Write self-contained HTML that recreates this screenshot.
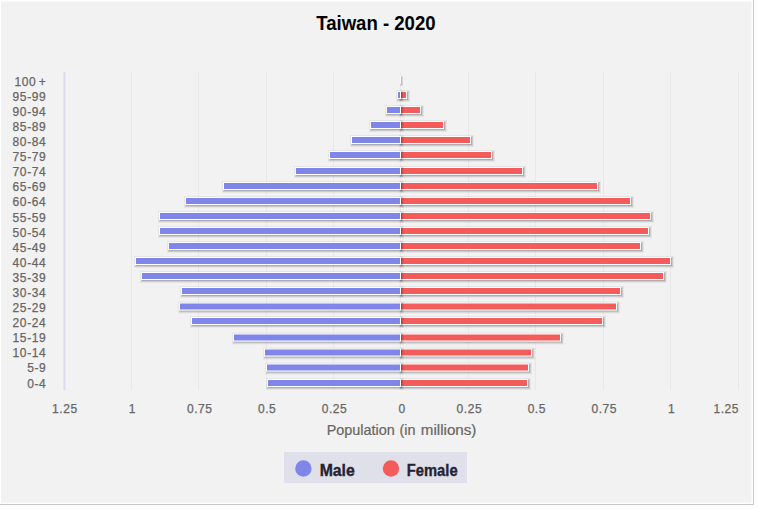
<!DOCTYPE html>
<html><head><meta charset="utf-8"><title>Taiwan - 2020</title>
<style>
html,body{margin:0;padding:0;background:#fff;}
body{width:758px;height:509px;overflow:hidden;position:relative;font-family:"Liberation Sans",sans-serif;}
svg{position:absolute;left:0;top:0;display:block}
text{font-family:"Liberation Sans",sans-serif;}
.yl{font-size:12px;fill:#666;stroke:#666;stroke-width:0.25px;text-anchor:end;letter-spacing:0.6px;word-spacing:-1.5px}
.xl{font-size:12px;fill:#666;stroke:#666;stroke-width:0.25px;text-anchor:middle;letter-spacing:0.55px}
.s1{fill:none;stroke:#000;stroke-opacity:0.05;stroke-width:5}
.s2{fill:none;stroke:#000;stroke-opacity:0.10;stroke-width:3}
.s3{fill:none;stroke:#000;stroke-opacity:0.15;stroke-width:1}
.bm{fill:#8085e9;stroke:#fff;stroke-width:1}
.bf{fill:#f45b5b;stroke:#fff;stroke-width:1}
</style></head><body>
<svg width="758" height="509" viewBox="0 0 758 509">
<rect x="0" y="0" width="758" height="509" fill="#fff"/>
<rect x="-1" y="-1" width="755" height="506" fill="#c9c9c9"/>
<rect x="0" y="0" width="753" height="504" fill="#fff"/>
<rect x="1" y="1.5" width="750.5" height="501.2" fill="#f2f2f2"/>

<rect x="63.4" y="72.0" width="2" height="318.0" fill="#dadcee"/>
<rect x="131" y="72.0" width="1" height="318.0" fill="#e8e8e8"/>
<rect x="198" y="72.0" width="1" height="318.0" fill="#e8e8e8"/>
<rect x="266" y="72.0" width="1" height="318.0" fill="#e8e8e8"/>
<rect x="333" y="72.0" width="1" height="318.0" fill="#e8e8e8"/>
<rect x="400" y="72.0" width="1" height="318.0" fill="#e8e8e8"/>
<rect x="468" y="72.0" width="1" height="318.0" fill="#e8e8e8"/>
<rect x="535" y="72.0" width="1" height="318.0" fill="#e8e8e8"/>
<rect x="603" y="72.0" width="1" height="318.0" fill="#e8e8e8"/>
<rect x="670" y="72.0" width="1" height="318.0" fill="#e8e8e8"/>
<rect x="738" y="72.0" width="1" height="318.0" fill="#e8e8e8"/>
<g><rect class="s1" x="401.5" y="92.5" width="6" height="7"/><rect class="s2" x="401.5" y="92.5" width="6" height="7"/><rect class="s3" x="401.5" y="92.5" width="6" height="7"/><rect class="s1" x="401.5" y="107.5" width="20" height="7"/><rect class="s2" x="401.5" y="107.5" width="20" height="7"/><rect class="s3" x="401.5" y="107.5" width="20" height="7"/><rect class="s1" x="401.5" y="122.5" width="43" height="7"/><rect class="s2" x="401.5" y="122.5" width="43" height="7"/><rect class="s3" x="401.5" y="122.5" width="43" height="7"/><rect class="s1" x="401.5" y="137.5" width="70" height="7"/><rect class="s2" x="401.5" y="137.5" width="70" height="7"/><rect class="s3" x="401.5" y="137.5" width="70" height="7"/><rect class="s1" x="401.5" y="152.5" width="91" height="7"/><rect class="s2" x="401.5" y="152.5" width="91" height="7"/><rect class="s3" x="401.5" y="152.5" width="91" height="7"/><rect class="s1" x="401.5" y="168.5" width="122" height="7"/><rect class="s2" x="401.5" y="168.5" width="122" height="7"/><rect class="s3" x="401.5" y="168.5" width="122" height="7"/><rect class="s1" x="401.5" y="183.5" width="197" height="7"/><rect class="s2" x="401.5" y="183.5" width="197" height="7"/><rect class="s3" x="401.5" y="183.5" width="197" height="7"/><rect class="s1" x="401.5" y="198.5" width="230" height="7"/><rect class="s2" x="401.5" y="198.5" width="230" height="7"/><rect class="s3" x="401.5" y="198.5" width="230" height="7"/><rect class="s1" x="401.5" y="213.5" width="250" height="7"/><rect class="s2" x="401.5" y="213.5" width="250" height="7"/><rect class="s3" x="401.5" y="213.5" width="250" height="7"/><rect class="s1" x="401.5" y="228.5" width="248" height="7"/><rect class="s2" x="401.5" y="228.5" width="248" height="7"/><rect class="s3" x="401.5" y="228.5" width="248" height="7"/><rect class="s1" x="401.5" y="243.5" width="240" height="7"/><rect class="s2" x="401.5" y="243.5" width="240" height="7"/><rect class="s3" x="401.5" y="243.5" width="240" height="7"/><rect class="s1" x="401.5" y="258.5" width="270" height="7"/><rect class="s2" x="401.5" y="258.5" width="270" height="7"/><rect class="s3" x="401.5" y="258.5" width="270" height="7"/><rect class="s1" x="401.5" y="273.5" width="263" height="7"/><rect class="s2" x="401.5" y="273.5" width="263" height="7"/><rect class="s3" x="401.5" y="273.5" width="263" height="7"/><rect class="s1" x="401.5" y="288.5" width="220" height="7"/><rect class="s2" x="401.5" y="288.5" width="220" height="7"/><rect class="s3" x="401.5" y="288.5" width="220" height="7"/><rect class="s1" x="401.5" y="304.0" width="216" height="7"/><rect class="s2" x="401.5" y="304.0" width="216" height="7"/><rect class="s3" x="401.5" y="304.0" width="216" height="7"/><rect class="s1" x="401.5" y="318.5" width="202" height="7"/><rect class="s2" x="401.5" y="318.5" width="202" height="7"/><rect class="s3" x="401.5" y="318.5" width="202" height="7"/><rect class="s1" x="401.5" y="335.0" width="160" height="7"/><rect class="s2" x="401.5" y="335.0" width="160" height="7"/><rect class="s3" x="401.5" y="335.0" width="160" height="7"/><rect class="s1" x="401.5" y="350.0" width="131" height="7"/><rect class="s2" x="401.5" y="350.0" width="131" height="7"/><rect class="s3" x="401.5" y="350.0" width="131" height="7"/><rect class="s1" x="401.5" y="365.0" width="128" height="7"/><rect class="s2" x="401.5" y="365.0" width="128" height="7"/><rect class="s3" x="401.5" y="365.0" width="128" height="7"/><rect class="s1" x="401.5" y="380.5" width="127" height="7"/><rect class="s2" x="401.5" y="380.5" width="127" height="7"/><rect class="s3" x="401.5" y="380.5" width="127" height="7"/></g><g><rect class="bf" x="400.5" y="91.5" width="6" height="7"/><rect class="bf" x="400.5" y="106.5" width="20" height="7"/><rect class="bf" x="400.5" y="121.5" width="43" height="7"/><rect class="bf" x="400.5" y="136.5" width="70" height="7"/><rect class="bf" x="400.5" y="151.5" width="91" height="7"/><rect class="bf" x="400.5" y="167.5" width="122" height="7"/><rect class="bf" x="400.5" y="182.5" width="197" height="7"/><rect class="bf" x="400.5" y="197.5" width="230" height="7"/><rect class="bf" x="400.5" y="212.5" width="250" height="7"/><rect class="bf" x="400.5" y="227.5" width="248" height="7"/><rect class="bf" x="400.5" y="242.5" width="240" height="7"/><rect class="bf" x="400.5" y="257.5" width="270" height="7"/><rect class="bf" x="400.5" y="272.5" width="263" height="7"/><rect class="bf" x="400.5" y="287.5" width="220" height="7"/><rect class="bf" x="400.5" y="303.0" width="216" height="7"/><rect class="bf" x="400.5" y="317.5" width="202" height="7"/><rect class="bf" x="400.5" y="334.0" width="160" height="7"/><rect class="bf" x="400.5" y="349.0" width="131" height="7"/><rect class="bf" x="400.5" y="364.0" width="128" height="7"/><rect class="bf" x="400.5" y="379.5" width="127" height="7"/></g>
<g><rect class="s1" x="398.5" y="92.5" width="3" height="7"/><rect class="s2" x="398.5" y="92.5" width="3" height="7"/><rect class="s3" x="398.5" y="92.5" width="3" height="7"/><rect class="s1" x="387.5" y="107.5" width="14" height="7"/><rect class="s2" x="387.5" y="107.5" width="14" height="7"/><rect class="s3" x="387.5" y="107.5" width="14" height="7"/><rect class="s1" x="371.5" y="122.5" width="30" height="7"/><rect class="s2" x="371.5" y="122.5" width="30" height="7"/><rect class="s3" x="371.5" y="122.5" width="30" height="7"/><rect class="s1" x="352.5" y="137.5" width="49" height="7"/><rect class="s2" x="352.5" y="137.5" width="49" height="7"/><rect class="s3" x="352.5" y="137.5" width="49" height="7"/><rect class="s1" x="330.5" y="152.5" width="71" height="7"/><rect class="s2" x="330.5" y="152.5" width="71" height="7"/><rect class="s3" x="330.5" y="152.5" width="71" height="7"/><rect class="s1" x="296.5" y="168.5" width="105" height="7"/><rect class="s2" x="296.5" y="168.5" width="105" height="7"/><rect class="s3" x="296.5" y="168.5" width="105" height="7"/><rect class="s1" x="224.5" y="183.5" width="177" height="7"/><rect class="s2" x="224.5" y="183.5" width="177" height="7"/><rect class="s3" x="224.5" y="183.5" width="177" height="7"/><rect class="s1" x="186.5" y="198.5" width="215" height="7"/><rect class="s2" x="186.5" y="198.5" width="215" height="7"/><rect class="s3" x="186.5" y="198.5" width="215" height="7"/><rect class="s1" x="160.5" y="213.5" width="241" height="7"/><rect class="s2" x="160.5" y="213.5" width="241" height="7"/><rect class="s3" x="160.5" y="213.5" width="241" height="7"/><rect class="s1" x="160.5" y="228.5" width="241" height="7"/><rect class="s2" x="160.5" y="228.5" width="241" height="7"/><rect class="s3" x="160.5" y="228.5" width="241" height="7"/><rect class="s1" x="169.5" y="243.5" width="232" height="7"/><rect class="s2" x="169.5" y="243.5" width="232" height="7"/><rect class="s3" x="169.5" y="243.5" width="232" height="7"/><rect class="s1" x="136.5" y="258.5" width="265" height="7"/><rect class="s2" x="136.5" y="258.5" width="265" height="7"/><rect class="s3" x="136.5" y="258.5" width="265" height="7"/><rect class="s1" x="142.5" y="273.5" width="259" height="7"/><rect class="s2" x="142.5" y="273.5" width="259" height="7"/><rect class="s3" x="142.5" y="273.5" width="259" height="7"/><rect class="s1" x="182.5" y="288.5" width="219" height="7"/><rect class="s2" x="182.5" y="288.5" width="219" height="7"/><rect class="s3" x="182.5" y="288.5" width="219" height="7"/><rect class="s1" x="180.5" y="304.0" width="221" height="7"/><rect class="s2" x="180.5" y="304.0" width="221" height="7"/><rect class="s3" x="180.5" y="304.0" width="221" height="7"/><rect class="s1" x="192.5" y="318.5" width="209" height="7"/><rect class="s2" x="192.5" y="318.5" width="209" height="7"/><rect class="s3" x="192.5" y="318.5" width="209" height="7"/><rect class="s1" x="234.5" y="335.0" width="167" height="7"/><rect class="s2" x="234.5" y="335.0" width="167" height="7"/><rect class="s3" x="234.5" y="335.0" width="167" height="7"/><rect class="s1" x="265.5" y="350.0" width="136" height="7"/><rect class="s2" x="265.5" y="350.0" width="136" height="7"/><rect class="s3" x="265.5" y="350.0" width="136" height="7"/><rect class="s1" x="267.5" y="365.0" width="134" height="7"/><rect class="s2" x="267.5" y="365.0" width="134" height="7"/><rect class="s3" x="267.5" y="365.0" width="134" height="7"/><rect class="s1" x="268.5" y="380.5" width="133" height="7"/><rect class="s2" x="268.5" y="380.5" width="133" height="7"/><rect class="s3" x="268.5" y="380.5" width="133" height="7"/><rect class="s2" x="401.5" y="77.5" width="0.01" height="7"/><rect class="s3" x="401.5" y="77.5" width="0.01" height="7"/></g><g><rect class="bm" x="397.5" y="91.5" width="3" height="7"/><rect class="bm" x="386.5" y="106.5" width="14" height="7"/><rect class="bm" x="370.5" y="121.5" width="30" height="7"/><rect class="bm" x="351.5" y="136.5" width="49" height="7"/><rect class="bm" x="329.5" y="151.5" width="71" height="7"/><rect class="bm" x="295.5" y="167.5" width="105" height="7"/><rect class="bm" x="223.5" y="182.5" width="177" height="7"/><rect class="bm" x="185.5" y="197.5" width="215" height="7"/><rect class="bm" x="159.5" y="212.5" width="241" height="7"/><rect class="bm" x="159.5" y="227.5" width="241" height="7"/><rect class="bm" x="168.5" y="242.5" width="232" height="7"/><rect class="bm" x="135.5" y="257.5" width="265" height="7"/><rect class="bm" x="141.5" y="272.5" width="259" height="7"/><rect class="bm" x="181.5" y="287.5" width="219" height="7"/><rect class="bm" x="179.5" y="303.0" width="221" height="7"/><rect class="bm" x="191.5" y="317.5" width="209" height="7"/><rect class="bm" x="233.5" y="334.0" width="167" height="7"/><rect class="bm" x="264.5" y="349.0" width="136" height="7"/><rect class="bm" x="266.5" y="364.0" width="134" height="7"/><rect class="bm" x="267.5" y="379.5" width="133" height="7"/><rect x="400" y="76" width="1" height="8" fill="#fff"/></g>
<text class="yl" x="46.3" y="85.65">100 +</text>
<text class="yl" x="46.3" y="100.75">95-99</text>
<text class="yl" x="46.3" y="115.84">90-94</text>
<text class="yl" x="46.3" y="130.94">85-89</text>
<text class="yl" x="46.3" y="146.04">80-84</text>
<text class="yl" x="46.3" y="161.13">75-79</text>
<text class="yl" x="46.3" y="176.23">70-74</text>
<text class="yl" x="46.3" y="191.33">65-69</text>
<text class="yl" x="46.3" y="206.43">60-64</text>
<text class="yl" x="46.3" y="221.52">55-59</text>
<text class="yl" x="46.3" y="236.62">50-54</text>
<text class="yl" x="46.3" y="251.72">45-49</text>
<text class="yl" x="46.3" y="266.81">40-44</text>
<text class="yl" x="46.3" y="281.91">35-39</text>
<text class="yl" x="46.3" y="297.01">30-34</text>
<text class="yl" x="46.3" y="312.11">25-29</text>
<text class="yl" x="46.3" y="327.20">20-24</text>
<text class="yl" x="46.3" y="342.30">15-19</text>
<text class="yl" x="46.3" y="357.40">10-14</text>
<text class="yl" x="46.3" y="372.49">5-9</text>
<text class="yl" x="46.3" y="387.59">0-4</text>
<text class="xl" x="64.9" y="413.4">1.25</text>
<text class="xl" x="132.3" y="413.4">1</text>
<text class="xl" x="199.7" y="413.4">0.75</text>
<text class="xl" x="267.1" y="413.4">0.5</text>
<text class="xl" x="334.5" y="413.4">0.25</text>
<text class="xl" x="402.0" y="413.4">0</text>
<text class="xl" x="469.4" y="413.4">0.25</text>
<text class="xl" x="536.8" y="413.4">0.5</text>
<text class="xl" x="604.2" y="413.4">0.75</text>
<text class="xl" x="671.6" y="413.4">1</text>
<text class="xl" style="text-anchor:end" x="739" y="413.4">1.25</text>
<text x="316.2" y="29.7" font-size="19.7" font-weight="bold" fill="#000" textLength="119.4" lengthAdjust="spacingAndGlyphs">Taiwan - 2020</text>
<g font-size="14.4" fill="#666" stroke="#666" stroke-width="0.2"><text x="326.7" y="434.9">Population</text><text x="399.5" y="434.9">(in</text><text x="420.8" y="434.9" textLength="55.6" lengthAdjust="spacingAndGlyphs">millions)</text></g>
<rect x="284" y="452" width="183" height="31" fill="#dfe0ea"/>
<circle cx="303.4" cy="468.5" r="8.2" fill="#8085e9"/>
<text x="319.7" y="475.7" font-size="15.8" font-weight="bold" fill="#262230" stroke="#262230" stroke-width="0.35" textLength="35.1" lengthAdjust="spacingAndGlyphs">Male</text>
<circle cx="391" cy="468.5" r="8.2" fill="#f45b5b"/>
<text x="406.8" y="475.7" font-size="15.8" font-weight="bold" fill="#262230" stroke="#262230" stroke-width="0.35" textLength="50.8" lengthAdjust="spacingAndGlyphs">Female</text>
</svg></body></html>
